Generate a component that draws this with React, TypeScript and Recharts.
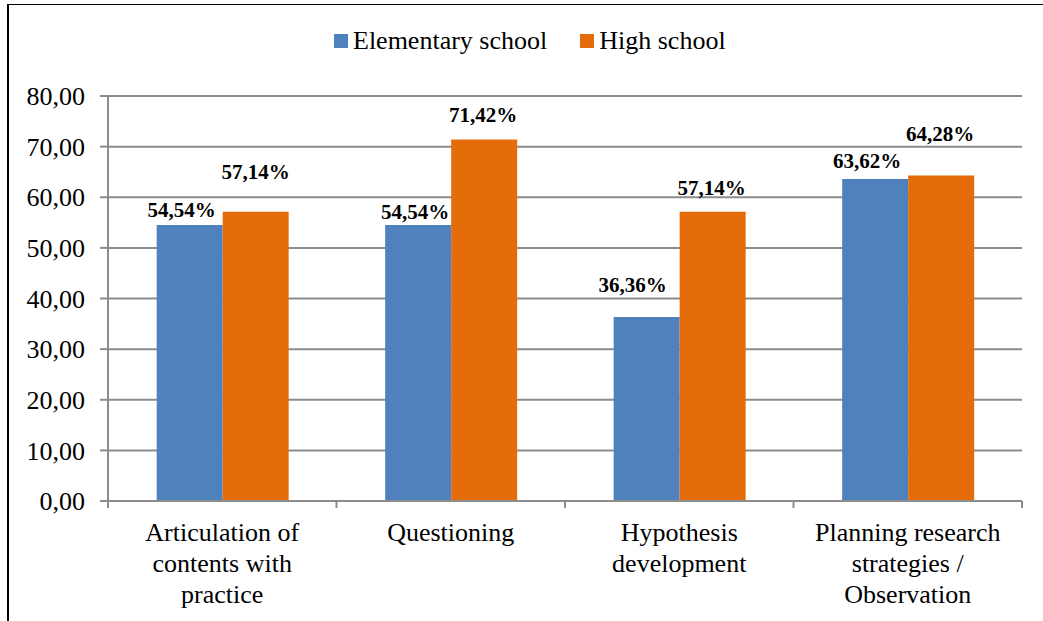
import { BarChart, Bar, XAxis, YAxis, CartesianGrid, LabelList } from 'recharts';

// Competencies evaluated, per school level (percent)
const categories = [
  'Articulation of\ncontents with\npractice',
  'Questioning',
  'Hypothesis\ndevelopment',
  'Planning research\nstrategies /\nObservation',
];
const elementary = [54.54, 54.54, 36.36, 63.62];
const highSchool = [57.14, 71.42, 57.14, 64.28];
const yTicks = [0, 10, 20, 30, 40, 50, 60, 70, 80];

// where each value label sits relative to its bar top (as placed in the original)
const elemLabelShift = [-8, -3, -14, -8];
const elemLabelLift = [8, 6, 25, 11];
const highLabelShift = [0, -1, -1, -1];
const highLabelLift = [33, 17, 17, 35];

const FONT = 'Liberation Serif, Tinos, Times New Roman, DejaVu Serif, serif';
const BLUE = '#4F81BD';
const ORANGE = '#E46C0A';
const GRID = '#8c8c8c';

const PLOT_LEFT = 108;
const PLOT_RIGHT = 1022;
const HALF_BAND = (PLOT_RIGHT - PLOT_LEFT) / categories.length / 2;

const data = categories.map((name, i) => ({
  name,
  elementary: elementary[i],
  high: highSchool[i],
}));

const fmtAxis = (v: number) => v.toFixed(2).replace('.', ',');
const fmtPct = (v: number) => v.toFixed(2).replace('.', ',') + '%';

function CategoryTick(props: any) {
  const { x, y, payload, index } = props;
  const lines = String(payload.value).split('\n');
  const last = index === categories.length - 1;
  return (
    <g>
      <line x1={x - HALF_BAND} x2={x - HALF_BAND} y1={y} y2={y + 7} stroke={GRID} strokeWidth={2} />
      {last && <line x1={x + HALF_BAND} x2={x + HALF_BAND} y1={y} y2={y + 7} stroke={GRID} strokeWidth={2} />}
      <text x={x} y={y} textAnchor="middle" style={{ fontFamily: FONT }} fontSize={26} fill="#000">
        {lines.map((l, i) => (
          <tspan key={i} x={x} dy={i === 0 ? 40 : 31}>
            {l}
          </tspan>
        ))}
      </text>
    </g>
  );
}

function makeLabel(shift: number[], lift: number[]) {
  return (props: any) => {
    const { x, y, width, value, index } = props;
    return (
      <text
        x={x + width / 2 + shift[index]}
        y={y - lift[index]}
        textAnchor="middle"
        style={{ fontFamily: FONT }}
        fontWeight="bold"
        fontSize={21}
        fill="#000"
      >
        {fmtPct(value)}
      </text>
    );
  };
}

const legendItems = [
  { name: 'Elementary school', color: BLUE },
  { name: 'High school', color: ORANGE },
];

export default function App() {
  return (
    <div style={{ position: 'absolute', left: 0, top: 0, width: 1043, height: 621, overflow: 'hidden', background: '#fff', fontFamily: FONT }}>
      <div
        style={{
          position: 'absolute',
          left: 7,
          top: 4,
          width: 1100,
          height: 700,
          borderLeft: '2px solid #000',
          borderTop: '1.5px solid #000',
        }}
      />
      <div
        style={{
          position: 'absolute',
          left: 334,
          top: 26,
          display: 'flex',
          alignItems: 'center',
          fontSize: 26,
          color: '#000',
        }}
      >
        {legendItems.map((it, i) => (
          <div key={it.name} style={{ display: 'flex', alignItems: 'center', marginRight: i === 0 ? 33 : 0 }}>
            <span style={{ width: 14, height: 14, background: it.color, marginRight: 5, display: 'inline-block' }} />
            <span>{it.name}</span>
          </div>
        ))}
      </div>
      <div style={{ position: 'absolute', left: 0, top: 0 }}>
        <BarChart
          width={1043}
          height={621}
          data={data}
          margin={{ top: 96, right: 1043 - PLOT_RIGHT, bottom: 20, left: 8 }}
          barCategoryGap="21.3%"
          barGap={0}
        >
          <CartesianGrid vertical={false} stroke={GRID} strokeWidth={2} />
          <XAxis
            dataKey="name"
            height={100}
            axisLine={{ stroke: GRID, strokeWidth: 2 }}
            tickLine={false}
            tickSize={0}
            tickMargin={0}
            interval={0}
            tick={<CategoryTick />}
          />
          <YAxis
            width={100}
            domain={[0, 80]}
            ticks={yTicks}
            tickFormatter={fmtAxis}
            axisLine={{ stroke: GRID, strokeWidth: 2 }}
            tickLine={{ stroke: GRID, strokeWidth: 2 }}
            tickSize={8}
            tickMargin={15}
            tick={{ style: { fontFamily: FONT }, fontSize: 26, fill: '#000' }}
          />
          <Bar dataKey="elementary" name="Elementary school" fill={BLUE} isAnimationActive={false}>
            <LabelList dataKey="elementary" content={makeLabel(elemLabelShift, elemLabelLift)} />
          </Bar>
          <Bar dataKey="high" name="High school" fill={ORANGE} isAnimationActive={false}>
            <LabelList dataKey="high" content={makeLabel(highLabelShift, highLabelLift)} />
          </Bar>
        </BarChart>
      </div>
    </div>
  );
}
